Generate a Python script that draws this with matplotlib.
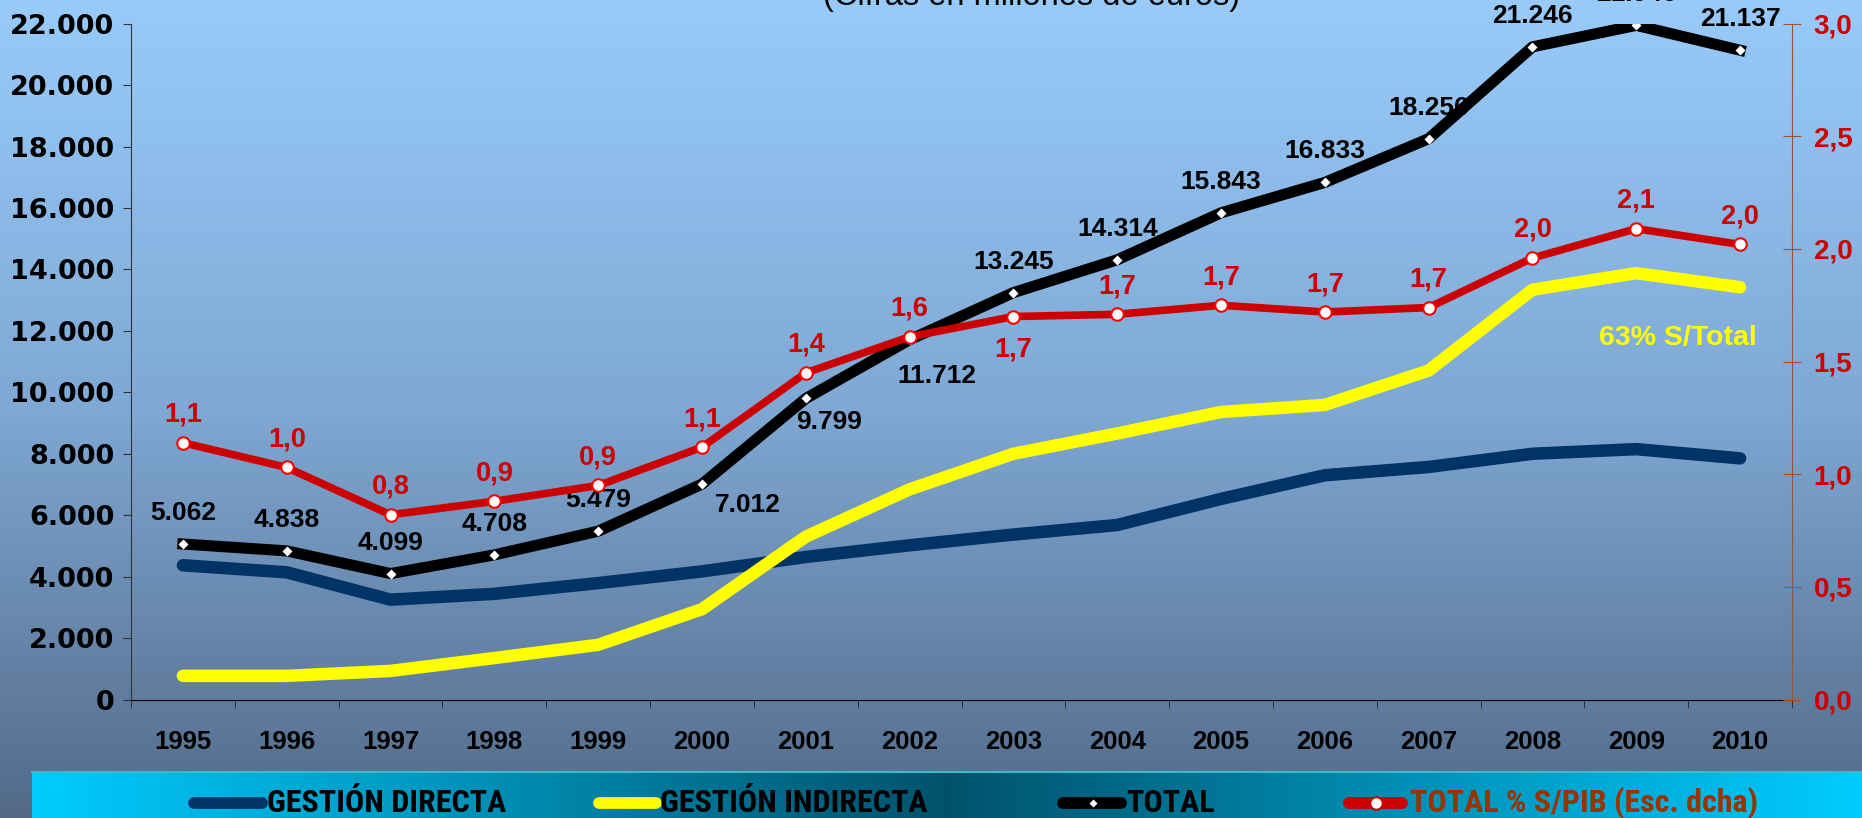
import numpy as np
import matplotlib.pyplot as plt
import matplotlib.font_manager as fm
from matplotlib.colors import LinearSegmentedColormap

# data (millions of euros, % of GDP)
years = [str(y) for y in range(1995, 2011)]
directa = [4370, 4140, 3250, 3440, 3790, 4170, 4640, 5020, 5370, 5680, 6530, 7300, 7570, 8000, 8150, 7850]
indirecta = [770, 770, 930, 1350, 1780, 2940, 5300, 6840, 8000, 8660, 9360, 9590, 10710, 13340, 13880, 13420]
total = [5062, 4838, 4099, 4708, 5479, 7012, 9799, 11712, 13245, 14314, 15843, 16833, 18256, 21246, 21946, 21137]
pct_pib = [1.14, 1.03, 0.82, 0.88, 0.95, 1.12, 1.45, 1.61, 1.70, 1.71, 1.75, 1.72, 1.74, 1.96, 2.09, 2.02]
pct_labels = ['1,1', '1,0', '0,8', '0,9', '0,9', '1,1', '1,4', '1,6', '1,7', '1,7', '1,7', '1,7', '1,7', '2,0', '2,1', '2,0']
left_ticks = list(range(0, 22001, 2000))
right_ticks = [0.0, 0.5, 1.0, 1.5, 2.0, 2.5, 3.0]
legend_names = ['GESTIÓN DIRECTA', 'GESTIÓN INDIRECTA', 'TOTAL', 'TOTAL % S/PIB (Esc. dcha)']

W, H = 1862, 818
names = {f.name for f in fm.fontManager.ttflist}
narrow = next((n for n in ['Liberation Sans Narrow', 'Roboto Condensed', 'Arial Narrow'] if n in names), None)
leg_font, leg_size = (narrow, 23) if narrow else ('Liberation Sans', 18)
plt.rcParams['font.family'] = ['Liberation Sans', 'DejaVu Sans']

fig = plt.figure(figsize=(W / 100, H / 100), dpi=100)

# background gradient + legend band, drawn in pixel coordinates
bg = fig.add_axes([0, 0, 1, 1], zorder=-1)
bg.axis('off')
vcmap = LinearSegmentedColormap.from_list('bg', ['#98CBFA', '#7FA8D4', '#536A88'])
bg.imshow(np.linspace(0, 1, 256)[:, None], cmap=vcmap, aspect='auto', extent=[0, W, H, 0])
hcmap = LinearSegmentedColormap.from_list('band', ['#00CCFF', '#00526C', '#00CCFF'])
bg.imshow(np.linspace(0, 1, 256)[None, :], cmap=hcmap, aspect='auto', extent=[32, W, H, 771])
bg.plot([32, W], [771.5, 771.5], color='#3FB8C8', lw=1.5)
bg.set_xlim(0, W)
bg.set_ylim(H, 0)

ly = 803
samples = [(194, 262, 267), (599, 656, 660), (1063, 1121, 1126), (1349, 1402, 1410)]
colors = ['#003366', '#FFFF00', '#000000', '#CC0000']
text_colors = ['black', 'black', 'black', '#993300']
for (x0, x1, xt), c, tc, name in zip(samples, colors, text_colors, legend_names):
    bg.plot([x0, x1], [ly, ly], color=c, lw=8.5, solid_capstyle='round')
    bg.text(xt, ly, name, color=tc, fontsize=leg_size, fontweight='bold', family=[leg_font, 'DejaVu Sans'],
            va='center', ha='left')
bg.plot([1093], [ly], marker='D', color='white', ms=4.5, mec='none')
bg.plot([1376], [ly], marker='o', mfc='white', mec='#CC0000', ms=9, mew=1.5)

# main axes
ax = fig.add_axes([131 / W, 1 - 699.5 / H, (1792 - 131) / W, (699.5 - 23.7) / H])
ax.patch.set_alpha(0)
x = np.arange(len(years))
ax.plot(x, directa, color='#003366', lw=9, solid_capstyle='round', zorder=3)
ax.plot(x, indirecta, color='#FFFF00', lw=9, solid_capstyle='round', zorder=3)
ax.plot(x, total, color='black', lw=8, marker='D', ms=5, mfc='white', mec='none', zorder=4)
ax.set_xlim(-0.5, len(years) - 0.5)
ax.set_ylim(0, 22000)
ax.set_yticks(left_ticks)
ax.set_yticklabels([f'{v:,}'.replace(',', '.') for v in left_ticks], family=['DejaVu Sans'],
                   fontsize=19.5, fontweight='bold')
ax.set_xticks(x)
ax.set_xticklabels(years, fontsize=18.5, fontweight='bold')
ax.set_xticks(np.arange(-0.5, len(years)), minor=True)
ax.tick_params(axis='x', which='major', length=0, pad=22)
ax.tick_params(axis='x', which='minor', length=6, direction='out', color='#222222')
ax.tick_params(axis='y', length=6, direction='out', pad=6, color='#333333')
ax.spines['top'].set_visible(False)
ax.spines['right'].set_visible(False)
ax.spines['left'].set_color('#333333')
ax.spines['bottom'].set_color('black')
ax.spines['bottom'].set_zorder(5)

# total labels
black_off = {5: (46, -21), 6: (23, -24), 7: (27, -36)}
for i, v in enumerate(total):
    dx, dy = black_off.get(i, (0, 31))
    ax.annotate(f'{v:,}'.replace(',', '.'), (i, v), xytext=(dx, dy), textcoords='offset pixels',
                ha='center', va='center', fontsize=19, fontweight='bold', color='black',
                zorder=2, annotation_clip=False)

ax.text(1678 / W, 1 - 338 / H, '63% S/Total', transform=fig.transFigure, ha='center', va='center',
        color='#FFFF00', fontsize=20.5, fontweight='bold')
fig.text(1032 / W, 1 - 5 / H, '(Cifras en millones de euros)', ha='center', va='baseline',
         fontsize=23.5, color='black')

# right axis: % of GDP
ax2 = ax.twinx()
ax2.plot(x, pct_pib, color='#CC0000', lw=5.5, marker='o', ms=9, mfc='white', mec='#FF0000', mew=1.5,
         zorder=5)
ax2.set_ylim(0, 3)
ax2.set_yticks(right_ticks)
ax2.set_yticklabels([f'{v:.1f}'.replace('.', ',') for v in right_ticks], fontsize=20,
                    fontweight='bold', color='#CC0000')
ax2.tick_params(axis='y', direction='inout', length=13, pad=9, color='#A0522D')
for s in ['top', 'left', 'bottom']:
    ax2.spines[s].set_visible(False)
ax2.spines['right'].set_color('#A0522D')

red_off = {8: (0, -33)}
for i, v in enumerate(pct_pib):
    dx, dy = red_off.get(i, (0, 28))
    ax2.annotate(pct_labels[i], (i, v), xytext=(dx, dy), textcoords='offset pixels',
                 ha='center', va='center', fontsize=19.5, fontweight='bold', color='#CC0000')

fig.savefig('out.png', dpi=100)
